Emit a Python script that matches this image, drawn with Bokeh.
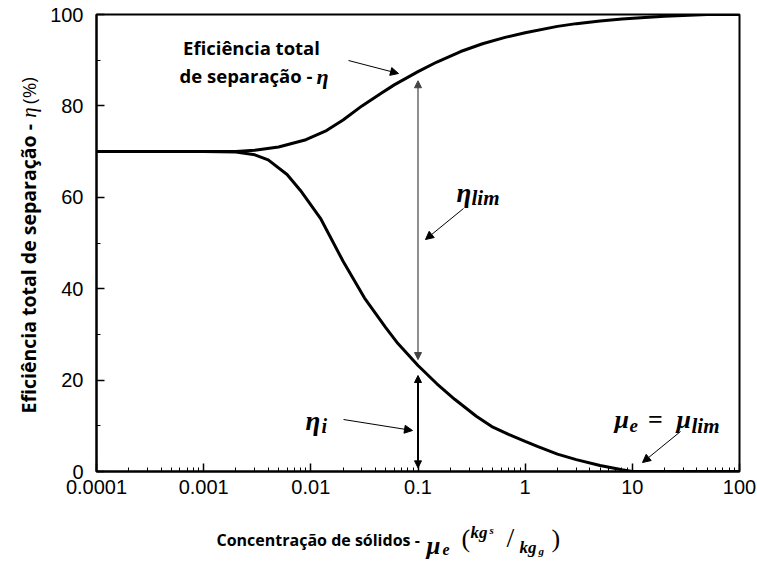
from bokeh.plotting import figure
from bokeh.layouts import column, row
from bokeh.models import Label, Arrow, NormalHead, FixedTicker, CustomJSTickFormatter, Range1d
from bokeh.embed import file_html
from bokeh.resources import INLINE

# Total separation efficiency eta vs. solids loading mu_e
eta_x = [1e-4, 1e-3, 2e-3, 3e-3, 5e-3, 9e-3, 0.014, 0.02, 0.03, 0.045, 0.06, 0.1,
         0.15, 0.25, 0.4, 0.65, 1, 2, 3, 5, 8, 12, 20, 50, 100]
eta_total = [70, 70, 70, 70.3, 71, 72.6, 74.6, 76.9, 80.0, 82.7, 84.6, 87.5,
             89.6, 91.9, 93.6, 95.0, 96.0, 97.4, 98.0, 98.6, 99.0, 99.3, 99.6, 100, 100]

# Inner (vortex) separation efficiency eta_i
etai_x = [1e-4, 1e-3, 2e-3, 3e-3, 4e-3, 6e-3, 8e-3, 0.0123, 0.02, 0.0316, 0.05, 0.065,
          0.1, 0.15, 0.22, 0.35, 0.5, 0.7, 1, 1.3, 2, 3, 5, 8, 10, 100]
eta_i = [70, 70, 69.9, 69.3, 68.2, 65.0, 61.5, 55.4, 46.0, 38.0, 31.5, 28.0,
         23.2, 19.2, 15.8, 12.1, 9.7, 8.1, 6.6, 5.5, 3.8, 2.6, 1.3, 0.4, 0, 0]

x_ticks = [0.0001, 0.001, 0.01, 0.1, 1, 10, 100]
x_tick_labels = ["0.0001", "0.001", "0.01", "0.1", "1", "10", "100"]
y_ticks = [0, 20, 40, 60, 80, 100]
y_minor = [10, 30, 50, 70, 90]
mu_ref = 0.1  # loading where the efficiency split is marked

# page geometry (pixels)
W, H = 757, 563
L, R, T, B = 96, 739, 14, 471      # plot frame
YT_W = 46                          # strip holding the y title
MAIN_H = 503                       # chart height; x title strip below
STRIP_TOP = MAIN_H + 4             # where the x title strip lands on the page

MATH = "Liberation Serif"


def bare_fig(w, h):
    f = figure(width=w, height=h, output_backend="svg", toolbar_location=None,
               x_axis_location=None, y_axis_location=None, min_border=0,
               x_range=Range1d(0, 1), y_range=Range1d(0, 1))
    f.grid.visible = False
    f.outline_line_color = None
    f.background_fill_color = "white"
    f.border_fill_color = "white"
    return f


p = figure(width=W - YT_W, height=MAIN_H, x_axis_type="log",
           x_range=Range1d(1e-4, 100), y_range=Range1d(0, 100),
           output_backend="svg", toolbar_location=None,
           min_border_left=L - YT_W, min_border_right=W - R,
           min_border_top=T, min_border_bottom=MAIN_H - B)
p.background_fill_color = "white"
p.border_fill_color = "white"
p.grid.visible = False
p.outline_line_color = "black"
p.outline_line_width = 2

x_minor = [d * m for d in x_ticks[:-1] for m in range(2, 10)]
p.xaxis.ticker = FixedTicker(ticks=x_ticks, minor_ticks=x_minor)
p.xaxis.formatter = CustomJSTickFormatter(
    args=dict(tvals=x_ticks, tlabels=x_tick_labels),
    code="""
    for (let i = 0; i < tvals.length; i++) {
        if (Math.abs(Math.log10(tvals[i]) - Math.log10(tick)) < 1e-6) return tlabels[i];
    }
    return "";
    """)
p.yaxis.ticker = FixedTicker(ticks=y_ticks, minor_ticks=y_minor)

for ax in (p.xaxis[0], p.yaxis[0]):
    ax.axis_line_width = 2
    ax.axis_line_color = "black"
    ax.major_tick_in = 8
    ax.major_tick_out = 0
    ax.minor_tick_in = 4
    ax.minor_tick_out = 0
    ax.major_tick_line_width = 1.5
    ax.minor_tick_line_width = 1
    ax.major_tick_line_color = "black"
    ax.minor_tick_line_color = "black"
    ax.major_label_text_font = "Liberation Sans"
    ax.major_label_text_font_size = "20px"
    ax.major_label_text_color = "black"
p.xaxis.major_label_standoff = 8
p.yaxis.major_label_standoff = 13

# curves
p.line(eta_x, eta_total, line_width=3, color="black")
p.line(etai_x, eta_i, line_width=3, color="black")


def px2x(px):
    return 10 ** (-4 + 6 * (px - L) / (R - L))


def px2y(py):
    return 100 * (B - py) / (B - T)


def text(fig, px, py, s, size, font="Open Sans", style="bold", align="left",
         baseline="middle", angle=0.0, data=False, dx=0, dy=0):
    kw = dict(text=s, text_font=font, text_font_size=f"{size}px",
              text_font_style=style, text_align=align, text_baseline=baseline,
              angle=angle, text_color="black")
    if data:
        lab = Label(x=px2x(px), y=px2y(py), **kw)
    else:
        lab = Label(x=px - dx, y=py - dy, x_units="canvas", y_units="canvas", **kw)
    fig.add_layout(lab)


def arrow(x0, y0, x1, y1, width=1.0, color="black", both=False, size=8):
    head = dict(size=size, fill_color=color, line_color=color, line_width=1)
    p.add_layout(Arrow(x_start=x0, y_start=y0, x_end=x1, y_end=y1,
                       line_width=width, line_color=color,
                       end=NormalHead(**head),
                       start=NormalHead(**head) if both else None))


# eta curve caption
text(p, 251, 47, "Eficiência total", 18.5, align="center", data=True)
text(p, 312, 75, "de separação -", 18.5, align="right", data=True)
text(p, 316, 76, "η", 22, font=MATH, style="bold italic", data=True)
arrow(px2x(348), px2y(60), px2x(398), px2y(73))

# eta_lim
text(p, 456, 192, "η", 27, font=MATH, style="bold italic", baseline="alphabetic", data=True)
text(p, 471, 197, "lim", 21, font=MATH, style="bold italic", baseline="alphabetic", data=True)
arrow(px2x(463), px2y(208), px2x(425), px2y(239))

# eta_i
text(p, 305, 420, "η", 27, font=MATH, style="bold italic", baseline="alphabetic", data=True)
text(p, 321, 425, "i", 20, font=MATH, style="bold italic", baseline="alphabetic", data=True)
arrow(px2x(343), px2y(419), px2x(412), px2y(430))

# mu_e = mu_lim
text(p, 614, 419, "μ", 26, font=MATH, style="bold italic", baseline="alphabetic", data=True)
text(p, 629, 425, "e", 19, font=MATH, style="bold italic", baseline="alphabetic", data=True)
text(p, 655, 419, "=", 26, font=MATH, style="bold", align="center", baseline="alphabetic", data=True)
text(p, 676, 419, "μ", 26, font=MATH, style="bold italic", baseline="alphabetic", data=True)
text(p, 691, 425, "lim", 21, font=MATH, style="bold italic", baseline="alphabetic", data=True)
arrow(px2x(680), px2y(431), px2x(642), px2y(462))

# split of the total efficiency at mu_ref
et_ref = eta_total[eta_x.index(mu_ref)]
ei_ref = eta_i[etai_x.index(mu_ref)]
arrow(mu_ref, et_ref - 2.0, mu_ref, ei_ref + 1.3, width=1.2, color="#444444", both=True, size=7)
arrow(mu_ref, ei_ref - 2.2, mu_ref, 0.8, width=2, color="black", both=True, size=7)

# y axis title strip
ytitle = bare_fig(YT_W, MAIN_H)
text(ytitle, 28, 413, "Eficiência total de separação -", 19.5, align="left", angle=1.5708)
text(ytitle, 28, 112, "η", 21, font=MATH, style="italic", align="center", angle=1.5708)
text(ytitle, 28, 90, "(%)", 19, style="normal", align="center", angle=1.5708)

# x axis title strip
xtitle = bare_fig(W, H - MAIN_H)
dy = STRIP_TOP
text(xtitle, 216, 543, "Concentração de sólidos -", 16, align="left", dy=dy)
text(xtitle, 426, 549, "μ", 25, font=MATH, style="bold italic", baseline="alphabetic", dy=dy)
text(xtitle, 442, 553, "e", 16, font=MATH, style="bold italic", baseline="alphabetic", dy=dy)
text(xtitle, 461, 542, "(", 26, font=MATH, style="normal", dy=dy)
text(xtitle, 470, 536, "kg", 17, font=MATH, style="bold italic", baseline="alphabetic", dy=dy)
text(xtitle, 489, 533, "s", 11, font=MATH, style="bold italic", baseline="alphabetic", dy=dy)
text(xtitle, 510, 541, "/", 28, font=MATH, style="normal", align="center", dy=dy)
text(xtitle, 519, 551, "kg", 17, font=MATH, style="bold italic", baseline="alphabetic", dy=dy)
text(xtitle, 538, 554, "g", 11, font=MATH, style="bold italic", baseline="alphabetic", dy=dy)
text(xtitle, 551, 542, ")", 26, font=MATH, style="normal", dy=dy)

page = column(row(ytitle, p, spacing=0), xtitle, spacing=0)
open("out.html", "w").write(file_html(page, INLINE))
